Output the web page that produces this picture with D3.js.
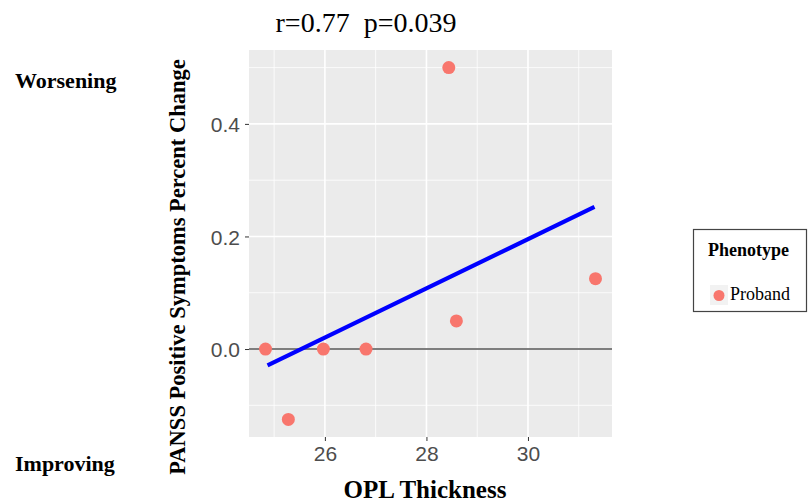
<!DOCTYPE html>
<html><head><meta charset="utf-8">
<script src="https://cdn.jsdelivr.net/npm/d3@7"></script>
<style>body{margin:0;background:#fff}svg{display:block}</style>
</head><body>
<svg id="c" width="808" height="504"></svg>
<script>
const xVals = [24.83, 25.28, 25.97, 26.81, 28.44, 28.59, 31.33];
const yVals = [0, -0.125, 0, 0, 0.5, 0.05, 0.125];
const fitX = [24.87, 31.31];
const fitY = [-0.029, 0.2525];
const xTicks = [26, 28, 30];
const xMinor = [25, 27, 29, 31];
const yTicks = [0, 0.2, 0.4];
const yMinor = [-0.1, 0.1, 0.3, 0.5];
const title = "r=0.77  p=0.039";
const legendTitle = "Phenotype";
const legendLabel = "Proband";

const svg = d3.select("#c");
const L = 249, R = 612, T = 50, B = 437;
const x = d3.scaleLinear().domain([24.505, 31.655]).range([L, R]);
const y = d3.scaleLinear().domain([-0.1563, 0.5313]).range([B, T]);
const serif = "'Liberation Serif','Times New Roman',serif";
const sans = "'Liberation Sans',Arial,sans-serif";

svg.append("rect").attr("x", L).attr("y", T).attr("width", R - L).attr("height", B - T).attr("fill", "#EBEBEB");
const g = svg.append("g");
xMinor.forEach(v => g.append("line").attr("x1", x(v)).attr("x2", x(v)).attr("y1", T).attr("y2", B).attr("stroke", "#fff").attr("stroke-width", 0.8));
yMinor.forEach(v => g.append("line").attr("y1", y(v)).attr("y2", y(v)).attr("x1", L).attr("x2", R).attr("stroke", "#fff").attr("stroke-width", 0.8));
xTicks.forEach(v => g.append("line").attr("x1", x(v)).attr("x2", x(v)).attr("y1", T).attr("y2", B).attr("stroke", "#fff").attr("stroke-width", 1.6));
yTicks.forEach(v => g.append("line").attr("y1", y(v)).attr("y2", y(v)).attr("x1", L).attr("x2", R).attr("stroke", "#fff").attr("stroke-width", 1.6));

// hline at 0
svg.append("line").attr("x1", L).attr("x2", R).attr("y1", y(0)).attr("y2", y(0)).attr("stroke", "#555").attr("stroke-width", 1.4);

// fit line
svg.append("line").attr("x1", x(fitX[0])).attr("x2", x(fitX[1])).attr("y1", y(fitY[0])).attr("y2", y(fitY[1]))
  .attr("stroke", "#0000FF").attr("stroke-width", 4.2);

// points
svg.selectAll("circle.pt").data(xVals.map((v, i) => [v, yVals[i]])).enter().append("circle")
  .attr("cx", d => x(d[0])).attr("cy", d => y(d[1])).attr("r", 6.5).attr("fill", "#F8766D");

// axes
const xa = svg.append("g").attr("transform", `translate(0,${B})`).call(d3.axisBottom(x).tickValues(xTicks).tickFormat(d3.format("d")).tickSize(4).tickPadding(5));
const ya = svg.append("g").attr("transform", `translate(${L},0)`).call(d3.axisLeft(y).tickValues(yTicks).tickFormat(d3.format(".1f")).tickSize(4).tickPadding(5));
[xa, ya].forEach(a => {
  a.select(".domain").remove();
  a.selectAll(".tick line").attr("stroke", "#333").attr("stroke-width", 1);
  a.selectAll(".tick text").attr("fill", "#4D4D4D").attr("font-family", sans).attr("font-size", 21);
});
ya.selectAll(".tick text").attr("dy", "0.36em");

// titles
svg.append("text").attr("x", 366).attr("y", 32).attr("text-anchor", "middle").style("white-space", "pre").attr("font-family", serif).attr("font-size", 28).text(title);
svg.append("text").attr("x", 425).attr("y", 498).attr("text-anchor", "middle").attr("font-family", serif).attr("font-weight", "bold").attr("font-size", 25).text("OPL Thickness");
svg.append("text").attr("transform", "translate(185,267) rotate(-90)").attr("text-anchor", "middle").attr("font-family", serif).attr("font-weight", "bold").attr("font-size", 22.5).text("PANSS Positive Symptoms Percent Change");
svg.append("text").attr("x", 15).attr("y", 88).attr("font-family", serif).attr("font-weight", "bold").attr("font-size", 22).text("Worsening");
svg.append("text").attr("x", 15).attr("y", 471).attr("font-family", serif).attr("font-weight", "bold").attr("font-size", 22).text("Improving");

// legend
svg.append("rect").attr("x", 693.5).attr("y", 229.5).attr("width", 113).attr("height", 82).attr("fill", "#fff").attr("stroke", "#444").attr("stroke-width", 1.2);
svg.append("text").attr("x", 708).attr("y", 256).attr("font-family", serif).attr("font-weight", "bold").attr("font-size", 18).text(legendTitle);
svg.append("rect").attr("x", 710).attr("y", 285).attr("width", 18).attr("height", 20).attr("fill", "#F2F2F2");
svg.append("circle").attr("cx", 719).attr("cy", 295.5).attr("r", 5.5).attr("fill", "#F8766D");
svg.append("text").attr("x", 730).attr("y", 300).attr("font-family", serif).attr("font-size", 18).text(legendLabel);
</script>
</body></html>
